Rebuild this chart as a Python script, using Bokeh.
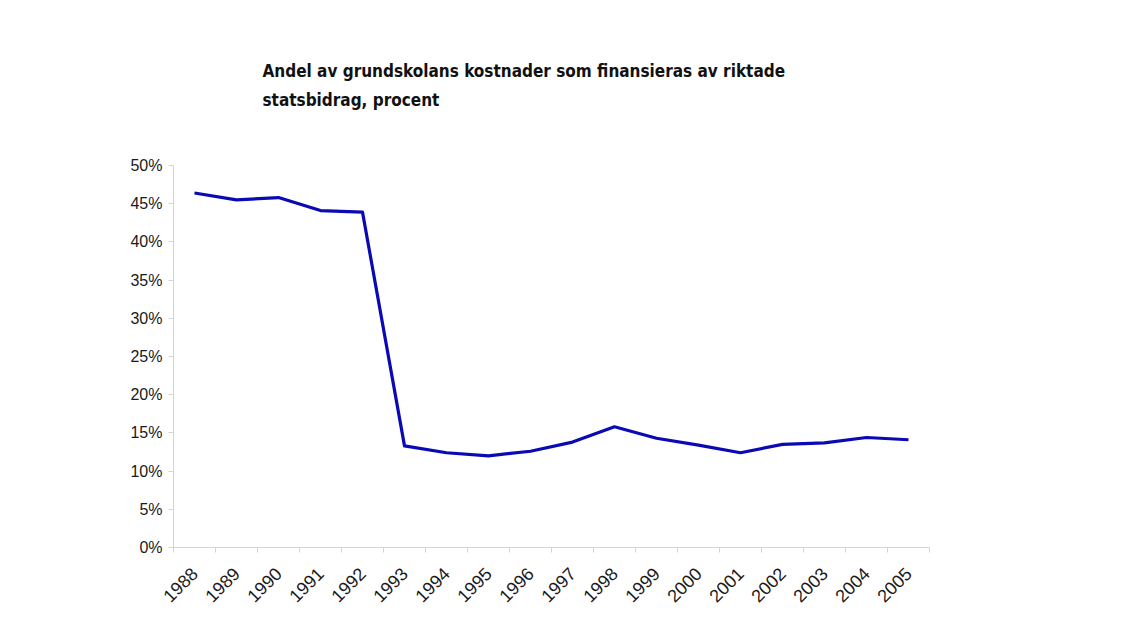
from bokeh.plotting import figure
from bokeh.models import (FixedTicker, NumeralTickFormatter, Range1d, Title,
                          ColumnDataSource)
from bokeh.embed import file_html
from bokeh.resources import INLINE

years = ["1988", "1989", "1990", "1991", "1992", "1993", "1994", "1995", "1996",
         "1997", "1998", "1999", "2000", "2001", "2002", "2003", "2004", "2005"]
share = [0.464, 0.455, 0.458, 0.441, 0.439, 0.133, 0.124, 0.120, 0.126,
         0.138, 0.158, 0.143, 0.134, 0.124, 0.135, 0.137, 0.144, 0.141]
y_ticks = [0.0, 0.05, 0.10, 0.15, 0.20, 0.25, 0.30, 0.35, 0.40, 0.45, 0.50]
title_text = ("Andel av grundskolans kostnader som finansieras av riktade\n"
              "statsbidrag, procent")

n = len(years)
centers = [i + 0.5 for i in range(n)]
bounds = [float(i) for i in range(n + 1)]

W, H = 1114, 626
p = figure(width=W, height=H, output_backend="svg", toolbar_location=None,
           x_range=Range1d(0, n), y_range=Range1d(0, 0.5),
           min_border_left=173, min_border_right=185,
           min_border_top=165, min_border_bottom=79)
p.background_fill_color = "white"
p.border_fill_color = "white"
p.outline_line_color = None
p.xgrid.visible = False
p.ygrid.visible = False

src = ColumnDataSource(dict(x=centers, y=share))
p.line("x", "y", source=src, line_color="#0a0ab4", line_width=3.2,
       line_join="round")

font = "Liberation Sans"
axc = "#d4d4d4"

xa = p.xaxis[0]
xa.ticker = FixedTicker(ticks=centers, minor_ticks=bounds)
xa.major_label_overrides = {c: y for c, y in zip(centers, years)}
xa.major_label_orientation = 0.785398
xa.major_tick_out = 0
xa.major_tick_in = 0
xa.minor_tick_out = 5
xa.minor_tick_in = 0
xa.minor_tick_line_color = axc
xa.axis_line_color = axc
xa.major_label_standoff = 18
xa.major_label_text_font = font
xa.major_label_text_font_size = "18px"
xa.major_label_text_color = "#1a1a1a"

ya = p.yaxis[0]
ya.ticker = FixedTicker(ticks=y_ticks)
ya.formatter = NumeralTickFormatter(format="0%")
ya.major_tick_out = 5
ya.major_tick_in = 0
ya.minor_tick_line_color = None
ya.major_tick_line_color = axc
ya.axis_line_color = axc
ya.major_label_standoff = 6
ya.major_label_text_font = font
ya.major_label_text_font_size = "16px"
ya.major_label_text_color = "#1a1a1a"

p.title = Title(text=title_text, text_font="DejaVu Sans Condensed",
                text_font_size="17px", text_font_style="bold",
                text_color="#111111", align="left", offset=89,
                standoff=110, text_line_height=1.47)

open("out.html", "w").write(file_html(p, INLINE))
